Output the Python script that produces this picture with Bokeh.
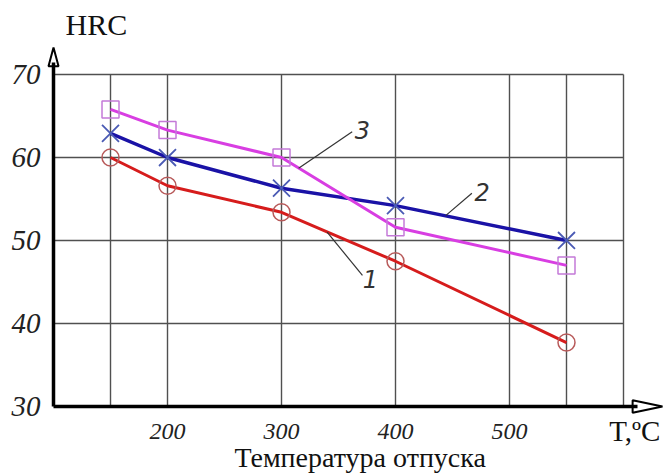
from bokeh.plotting import figure
from bokeh.models import Range1d, FixedTicker, Label, LabelSet, ColumnDataSource
from bokeh.embed import file_html
from bokeh.resources import INLINE
from bokeh.core.properties import value

# ---- data ----
temps = [150, 200, 300, 400, 550]
hrc_1 = [60.0, 56.6, 53.4, 47.5, 37.7]
hrc_2 = [62.9, 60.0, 56.3, 54.2, 50.0]
hrc_3 = [65.8, 63.3, 60.0, 51.6, 47.0]
x_ticks = [200, 300, 400, 500]
y_ticks = [30, 40, 50, 60, 70]
x_tick_labels = ["200", "300", "400", "500"]
y_tick_labels = ["30", "40", "50", "60", "70"]
x_grid = [150, 200, 300, 400, 500, 550, 600]
y_grid = [40, 50, 60, 70]
curve_names = ["1", "2", "3"]
label_x = [378, 476, 371]
label_y = [45.4, 55.8, 63.3]
leader_x0 = [340, 444, 315]
leader_y0 = [51.0, 53.0, 58.7]
leader_x1 = [371, 467, 362]
leader_y1 = [45.8, 55.7, 63.1]

X0, X1 = 100, 600
Y0, Y1 = 30, 70

p = figure(width=667, height=474, output_backend="svg", toolbar_location=None,
           x_range=Range1d(53.5, 638.6), y_range=Range1d(21.8, 74.1),
           min_border_left=0, min_border_right=0, min_border_top=40, min_border_bottom=0)
p.outline_line_color = None
p.xgrid.visible = False
p.ygrid.visible = False
p.background_fill_color = "white"

# grid
p.segment(x0=x_grid, x1=x_grid, y0=[Y0] * len(x_grid), y1=[Y1] * len(x_grid),
          line_color="#505050", line_width=1.4)
p.segment(x0=[X0] * len(y_grid), x1=[X1] * len(y_grid), y0=y_grid, y1=y_grid,
          line_color="#505050", line_width=1.4)

# curves
p.line(temps, hrc_1, line_color="#d61c1c", line_width=3)
p.line(temps, hrc_2, line_color="#1a12a6", line_width=3.5)
p.line(temps, hrc_3, line_color="#d83ee2", line_width=3)
p.scatter(temps, hrc_1, marker="circle", size=17, fill_color=None,
          line_color="#b85a5a", line_width=1.5)
p.scatter(temps, hrc_2, marker="x", size=24, line_color="#4a5ab4", line_width=1.8)
p.scatter(temps, hrc_3, marker="square", size=17, fill_color=None,
          line_color="#c47ad8", line_width=1.5)

# leaders and curve numbers
p.segment(x0=leader_x0, y0=leader_y0, x1=leader_x1, y1=leader_y1,
          line_color="#333333", line_width=1.2)
p.text(x=label_x, y=label_y, text=curve_names, text_font=value("DejaVu Sans"),
       text_font_style="italic", text_font_size="24px", text_color="#333333",
       text_align="center", text_baseline="middle")

# axes (lines drawn by bokeh axes at fixed locations)
xa = p.xaxis[0]
ya = p.yaxis[0]
xa.fixed_location = 30
ya.fixed_location = 100
for ax in (xa, ya):
    ax.axis_line_width = 3.5
    ax.axis_line_color = "black"
    ax.ticker = FixedTicker(ticks=[])
    ax.major_tick_out = 0
    ax.major_tick_in = 0
    ax.minor_tick_out = 0
    ax.minor_tick_in = 0
xa.bounds = (100, 612)
ya.bounds = (30, 71.5)

# tick labels
x_src = ColumnDataSource(dict(x=x_ticks, y=[27.0] * len(x_ticks), t=x_tick_labels))
y_src = ColumnDataSource(dict(x=[88.6] * len(y_ticks), y=y_ticks, t=y_tick_labels))
p.add_layout(LabelSet(x="x", y="y", text="t", source=x_src, text_font=value("Liberation Serif"),
                      text_font_style="italic", text_font_size="24px", text_color="#222222",
                      text_align="center", text_baseline="middle"))
p.add_layout(LabelSet(x="x", y="y", text="t", source=y_src, text_font=value("Liberation Serif"),
                      text_font_style="italic", text_font_size="29px", text_color="#222222",
                      text_align="right", text_baseline="middle"))

# arrowheads (axis decoration)
p.patch(x=[100, 95.6, 104.4], y=[73.25, 71.0, 71.0], fill_color="white",
        line_color="black", line_width=2)
p.patch(x=[634.2, 608.0, 608.0], y=[30, 30.75, 29.25], fill_color="white",
        line_color="black", line_width=2)

# titles
p.title.text = "HRC"
p.title.text_font = "Liberation Serif"
p.title.text_font_style = "normal"
p.title.text_font_size = "30px"
p.title.text_color = "#111111"
p.title.offset = 65
p.title.standoff = 0

p.add_layout(Label(x=587.5, y=27.0, text="T,ºC",
                   text_font="Liberation Serif", text_font_size="29px",
                   text_baseline="middle", text_color="#111111"))
p.add_layout(Label(x=369, y=23.8, text="Температура отпуска",
                   text_font="Liberation Serif", text_font_size="28px",
                   text_align="center", text_baseline="middle", text_color="#111111"))

open("out.html", "w").write(file_html(p, INLINE))
